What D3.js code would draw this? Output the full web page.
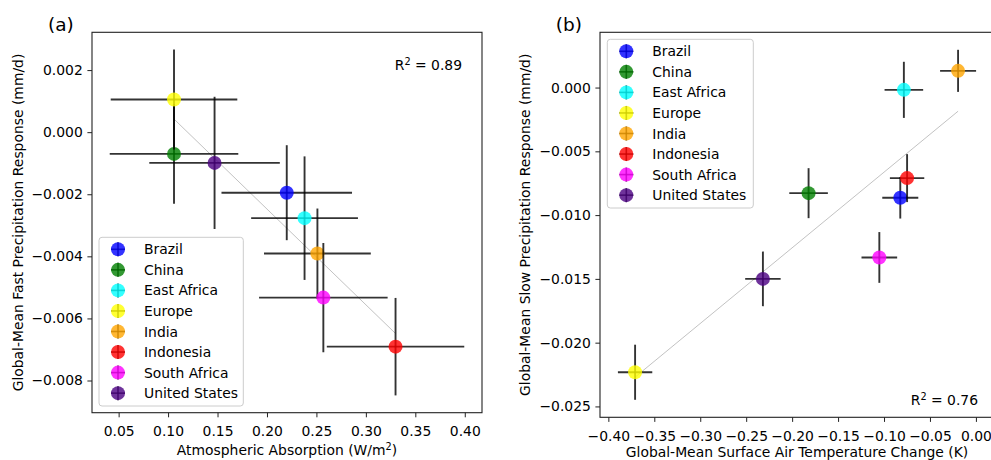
<!DOCTYPE html>
<meta charset="utf-8">
<script src="https://d3js.org/d3.v7.min.js"></script>
<style>
  body { margin: 0; background: #fff; }
  text { font-family: "DejaVu Sans", sans-serif; fill: #000; }
</style>
<div id="my_dataviz"></div>
<script>

// regions and their colours
var regions = ["Brazil", "China", "East Africa", "Europe", "India", "Indonesia", "South Africa", "United States"];
var colors = ["blue", "green", "cyan", "yellow", "orange", "red", "magenta", "indigo"];

// panel (a): atmospheric absorption vs fast precipitation response
var absorption    = [0.220, 0.106, 0.238, 0.106, 0.251, 0.330, 0.257, 0.147];
var absorptionErr = [0.066, 0.065, 0.054, 0.064, 0.054, 0.0695, 0.065, 0.066];
var fastPrecip    = [-0.00195, -0.00070, -0.00277, 0.00105, -0.00391, -0.00691, -0.00533, -0.00099];
var fastPrecipErr = [0.00153, 0.00161, 0.00199, 0.00161, 0.00145, 0.00157, 0.00176, 0.00213];

// panel (b): surface air temperature change vs slow precipitation response
var tempChange    = [-0.0823, -0.1821, -0.0784, -0.3709, -0.0194, -0.0749, -0.1051, -0.2318];
var tempChangeErr = [0.0196, 0.021, 0.021, 0.0187, 0.0196, 0.0187, 0.0194, 0.0193];
var slowPrecip    = [-0.00864, -0.00828, -0.00018, -0.02232, 0.00131, -0.0071, -0.01332, -0.0150];
var slowPrecipErr = [0.00163, 0.00196, 0.0022, 0.00216, 0.00165, 0.00188, 0.00199, 0.00214];

// tick labels
var ticksAx = [0.05, 0.10, 0.15, 0.20, 0.25, 0.30, 0.35, 0.40];
var ticksAy = [0.002, 0.000, -0.002, -0.004, -0.006, -0.008];
var ticksBx = [-0.40, -0.35, -0.30, -0.25, -0.20, -0.15, -0.10, -0.05, 0.00];
var ticksBy = [0.000, -0.005, -0.010, -0.015, -0.020, -0.025];

var svg = d3.select("#my_dataviz")
  .append("svg")
    .attr("width", 991)
    .attr("height", 460);

var FS = 13.9;
var EW = 1.9; // error bar width

// data limits with a 5% margin, like matplotlib
function limits(v, e) {
  var lo = d3.min(v, function(d, i) { return d - e[i]; });
  var hi = d3.max(v, function(d, i) { return d + e[i]; });
  var m = (hi - lo) * 0.05;
  return [lo - m, hi + m];
}

function drawPanel(p) {
  var x = d3.scaleLinear().domain(limits(p.xs, p.xerr)).range([p.left, p.right]);
  var y = d3.scaleLinear().domain(limits(p.ys, p.yerr)).range([p.bottom, p.top]);
  var g = svg.append("g");

  // least squares fit line
  var mx = d3.mean(p.xs), my = d3.mean(p.ys);
  var sxy = d3.sum(p.xs, function(d, i) { return (d - mx) * (p.ys[i] - my); });
  var sxx = d3.sum(p.xs, function(d) { return (d - mx) * (d - mx); });
  var slope = sxy / sxx;
  var x0 = d3.min(p.xs), x1 = d3.max(p.xs);
  g.append("line")
    .attr("x1", x(x0)).attr("y1", y(my + slope * (x0 - mx)))
    .attr("x2", x(x1)).attr("y2", y(my + slope * (x1 - mx)))
    .attr("stroke", "#bbb")
    .attr("stroke-width", 0.9);

  // error bars then markers, one region at a time
  regions.forEach(function(r, i) {
    var cx = x(p.xs[i]), cy = y(p.ys[i]);
    g.append("line")
      .attr("x1", x(p.xs[i] - p.xerr[i])).attr("x2", x(p.xs[i] + p.xerr[i]))
      .attr("y1", cy).attr("y2", cy)
      .attr("stroke", "#000").attr("stroke-opacity", 0.8).attr("stroke-width", EW);
    g.append("line")
      .attr("x1", cx).attr("x2", cx)
      .attr("y1", y(p.ys[i] - p.yerr[i])).attr("y2", y(p.ys[i] + p.yerr[i]))
      .attr("stroke", "#000").attr("stroke-opacity", 0.8).attr("stroke-width", EW);
    g.append("circle")
      .attr("cx", cx).attr("cy", cy).attr("r", 7)
      .attr("fill", colors[i]).attr("fill-opacity", 0.8);
  });

  // axes
  var xAxis = g.append("g")
    .attr("transform", "translate(0," + p.bottom + ")")
    .call(d3.axisBottom(x).tickValues(p.xticks).tickFormat(d3.format(".2f")).tickSize(4.6).tickPadding(4.6));
  var yAxis = g.append("g")
    .attr("transform", "translate(" + p.left + ",0)")
    .call(d3.axisLeft(y).tickValues(p.yticks).tickFormat(d3.format(".3f")).tickSize(4.6).tickPadding(4.6));
  [xAxis, yAxis].forEach(function(a) {
    a.select(".domain").remove();
    a.selectAll("line").attr("stroke", "#222").attr("stroke-width", 1);
    a.selectAll("text").attr("font-size", FS).attr("font-family", "DejaVu Sans").attr("fill", "#000");
  });
  xAxis.selectAll("text").attr("dy", "1.05em");

  // frame
  g.append("rect")
    .attr("x", p.left).attr("y", p.top)
    .attr("width", p.right - p.left).attr("height", p.bottom - p.top)
    .attr("fill", "none").attr("stroke", "#222").attr("stroke-width", 1.1);

  // axis labels
  var xl = g.append("text")
    .attr("x", (p.left + p.right) / 2).attr("y", p.xlabelY)
    .attr("text-anchor", "middle").attr("font-size", FS);
  xl.append("tspan").text(p.xlabel[0]);
  if (p.xlabel[1]) {
    xl.append("tspan").attr("dy", -5.5).attr("font-size", FS * 0.7).text(p.xlabel[1]);
    xl.append("tspan").attr("dy", 5.5).text(p.xlabel[2]);
  }
  g.append("text")
    .attr("transform", "translate(" + p.ylabelX + "," + (p.top + p.bottom) / 2 + ") rotate(-90)")
    .attr("text-anchor", "middle").attr("font-size", FS)
    .text(p.ylabel);

  // panel tag
  g.append("text").attr("x", p.tagX).attr("y", 30.5).attr("font-size", 18.5).text(p.tag);

  // R squared
  var rt = g.append("text")
    .attr("x", p.r2X).attr("y", p.r2Y)
    .attr("text-anchor", "end").attr("font-size", FS);
  rt.append("tspan").text("R");
  rt.append("tspan").attr("dy", -5.5).attr("font-size", FS * 0.7).text("2");
  rt.append("tspan").attr("dy", 5.5).text(" = " + p.r2);

  // legend
  var lg = g.append("g");
  lg.append("rect")
    .attr("x", p.legX).attr("y", p.legY)
    .attr("width", p.legW).attr("height", 168.7)
    .attr("rx", 3).attr("ry", 3)
    .attr("fill", "#fff").attr("fill-opacity", 0.8)
    .attr("stroke", "#ccc").attr("stroke-width", 1);
  regions.forEach(function(r, i) {
    var ly = p.legY + 12 + i * 20.55;
    var lx = p.legX + 19;
    lg.append("line").attr("x1", lx - 7).attr("x2", lx + 7).attr("y1", ly).attr("y2", ly)
      .attr("stroke", "#000").attr("stroke-opacity", 0.8).attr("stroke-width", 1.6);
    lg.append("line").attr("x1", lx).attr("x2", lx).attr("y1", ly - 7).attr("y2", ly + 7)
      .attr("stroke", "#000").attr("stroke-opacity", 0.8).attr("stroke-width", 1.6);
    lg.append("circle").attr("cx", lx).attr("cy", ly).attr("r", 7)
      .attr("fill", colors[i]).attr("fill-opacity", 0.8);
    lg.append("text").attr("x", p.legX + 45).attr("y", ly + 5)
      .attr("font-size", FS).text(r);
  });
}

drawPanel({
  left: 92, right: 482, top: 32.3, bottom: 412.7,
  xs: absorption, xerr: absorptionErr, ys: fastPrecip, yerr: fastPrecipErr,
  xticks: ticksAx, yticks: ticksAy,
  xlabel: ["Atmospheric Absorption (W/m", "2", ")"], xlabelY: 455,
  ylabel: "Global-Mean Fast Precipitation Response (mm/d)", ylabelX: 23,
  tag: "(a)", tagX: 48,
  r2: "0.89", r2X: 462, r2Y: 70,
  legX: 99, legY: 237.3, legW: 144.3
});

drawPanel({
  left: 600, right: 994, top: 32.3, bottom: 417.3,
  xs: tempChange, xerr: tempChangeErr, ys: slowPrecip, yerr: slowPrecipErr,
  xticks: ticksBx, yticks: ticksBy,
  xlabel: ["Global-Mean Surface Air Temperature Change (K)"], xlabelY: 456.5,
  ylabel: "Global-Mean Slow Precipitation Response (mm/d)", ylabelX: 530,
  tag: "(b)", tagX: 555.7,
  r2: "0.76", r2X: 978, r2Y: 405,
  legX: 607.3, legY: 39.3, legW: 146
});

</script>
